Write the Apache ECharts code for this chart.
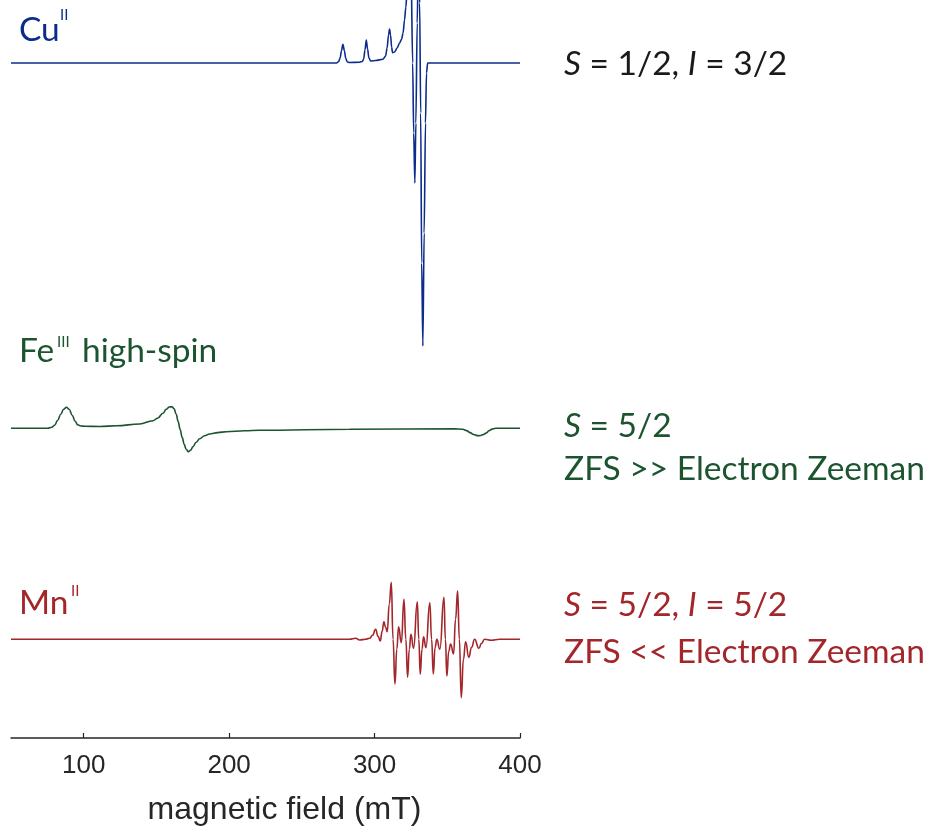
<!DOCTYPE html>
<html><head><meta charset="utf-8">
<script src="https://cdn.jsdelivr.net/npm/echarts@6/dist/echarts.min.js"></script>
<style>html,body{margin:0;padding:0;background:#fff}#c{width:935px;height:827px}</style>
</head><body><div id="c"></div>
<script>
// ---- data (field in mT, signal in arbitrary derivative units) ----
const xTicks = [100, 200, 300, 400];

const cuField  = [50, 273.9, 275.3, 276.3, 277.2, 278.2, 279.3, 280.1, 281.1, 282.8, 289.7, 291.6, 292.5, 293.4, 294.3, 295.2, 296.1, 297.3, 300.7, 305.7, 307.6, 308.6, 309.6, 310.3, 311.0, 311.7, 312.4, 313.8, 315.5, 317.2, 318.6, 319.6, 320.6, 321.5, 322.2, 323.0, 324.1, 325.1, 326.2, 326.9, 327.7, 328.4, 329.3, 330.1, 331.0, 331.7, 332.4, 333.2, 334.1, 335.0, 335.7, 336.5, 400];
const cuSignal = [0, 0, 1.5, 5, 12, 18.7, 12, 5, 1.2, 0.5, 0.8, 1.5, 4, 13, 23, 14, 5, 2, 2.5, 3.7, 7, 15, 28, 34, 28, 16, 10.3, 11, 15, 20, 24, 30, 43, 56, 68, 100, 120, 90, 0, -70, -120, -60, 40, 100, 60, -50, -200, -283, -170, -60, -10, 0, 0];

const feField  = [50, 75.2, 78.0, 80.0, 82.1, 84.2, 86.2, 88.1, 90.0, 92.1, 94.1, 95.9, 98.0, 100.7, 111.0, 122.5, 138.5, 147.6, 150.8, 154.5, 156.7, 158.8, 160.7, 162.2, 163.6, 164.9, 166.3, 167.7, 169.1, 170.4, 172.0, 173.5, 175.1, 177.3, 179.7, 183.1, 186.6, 192.1, 198.1, 210.7, 221.0, 282.8, 355.0, 360.7, 363.3, 365.7, 368.1, 370.5, 372.5, 374.6, 376.7, 378.7, 380.8, 383.2, 400];
const feSignal = [0, 0, 1, 3, 8, 14, 19, 21, 19, 13, 7, 3.5, 2.3, 2, 1.8, 2.6, 4.3, 7.6, 10, 15, 19, 21.3, 21.6, 19.5, 14, 7, -1, -9, -16, -21, -23.4, -22, -18.4, -14, -10.5, -7.5, -5.7, -4.3, -3.4, -2.5, -2, -1, -0.5, -1, -2.3, -4.3, -6.2, -7.3, -7.4, -6.3, -4.8, -2.5, -0.8, 0, 0];

const mnField  = [50, 282.8, 287.0, 289.7, 293.8, 296.6, 298.6, 300.7, 302.4, 303.9, 305.2, 306.4, 307.6, 308.7, 310.1, 311.5, 312.7, 314.0, 315.3, 316.5, 318.4, 320.2, 321.5, 322.7, 323.9, 325.0, 326.8, 329.4, 330.4, 331.4, 332.6, 333.7, 335.3, 338.0, 339.2, 340.4, 341.6, 342.8, 344.9, 347.7, 348.7, 349.7, 351.0, 352.3, 354.3, 355.7, 357.1, 358.3, 359.6, 361.1, 362.6, 364.8, 366.7, 368.8, 371.7, 373.6, 375.6, 380.2, 386.0, 400];
const mnSignal = [0, 0, 1, -0.7, 0, 1, 4, 10, 3, -1.7, 8, 17.6, 12, 7.6, 35, 57, 0, -44.7, -10, 12.6, -3.4, 40, 0, -38, -10, 5, -9, 37.6, 0, -35, -10, 2.6, -8.4, 36.6, 0, -34.7, -8, 0, -10, 42, 0, -36.7, -12, -4.7, -14.7, 20, 48.6, 0, -58.4, -20, -2.4, -18, -8, 0, -9, -4, 0, -1, 0, 0];

const xName = 'magnetic field (mT)';
// ---------------------------------------------------------------

const blue = '#0c2c8c', green = '#1c5430', red = '#a3262b', dark = '#262626';
const zip = (a, b) => a.map((v, i) => [v, b[i]]);
const txtFont = 'Lato';
const txtSize = 33.5;

const chart = echarts.init(document.getElementById('c'), null, {renderer: 'canvas'});

function t(x, y, text, color, size, rich) {
  const style = {text: text, x: 0, y: 0, fill: color, fontSize: size, fontFamily: txtFont, verticalAlign: 'middle', align: 'left'};
  if (rich) style.rich = rich;
  return {type: 'text', x: x, y: y, z: 10, style: style};
}
const it = c => ({i: {fontStyle: 'italic', fontSize: txtSize, fontFamily: txtFont, fill: c}});

chart.setOption({
  animation: false,
  backgroundColor: '#ffffff',
  grid: {left: 11, right: 415, top: 0, bottom: 89, containLabel: false, outerBoundsMode: 'none'},
  xAxis: {
    type: 'value', min: 50, max: 400,
    axisLine: {onZero: false, lineStyle: {color: dark, width: 1.5}},
    axisTick: {inside: true, length: 5, customValues: xTicks, lineStyle: {color: dark, width: 1.2}},
    axisLabel: {customValues: xTicks, fontSize: 26, color: dark, fontFamily: 'Liberation Sans', margin: 15},
    splitLine: {show: false},
    name: xName, nameLocation: 'middle', nameGap: 56,
    nameTextStyle: {fontSize: 32, color: dark, fontFamily: 'Liberation Sans', padding: [0, 0, 0, 38]}
  },
  yAxis: [
    {type: 'value', min: -675, max: 63, show: false, splitLine: {show: false}},
    {type: 'value', min: -309.7, max: 428.3, show: false, splitLine: {show: false}},
    {type: 'value', min: -98.7, max: 639.3, show: false, splitLine: {show: false}}
  ],
  series: [
    {type: 'line', yAxisIndex: 0, data: zip(cuField, cuSignal), showSymbol: false, smooth: 0.3, smoothMonotone: 'x', lineStyle: {color: blue, width: 1.6}},
    {type: 'line', yAxisIndex: 1, data: zip(feField, feSignal), showSymbol: false, smooth: 0.4, smoothMonotone: 'x', lineStyle: {color: green, width: 1.6}},
    {type: 'line', yAxisIndex: 2, data: zip(mnField, mnSignal), showSymbol: false, smooth: 0.5, smoothMonotone: 'x', lineStyle: {color: red, width: 1.6}}
  ],
  graphic: [
    t(19, 30, 'Cu', blue, txtSize),
    t(60, 15.5, 'II', blue, 15),
    t(19, 351.5, 'Fe', green, txtSize),
    t(57, 342.5, 'III', green, 15),
    t(82, 351.5, 'high-spin', green, txtSize),
    t(19, 603.5, 'Mn', red, txtSize),
    t(71, 591, 'II', red, 15),
    t(564, 64, '{i|S} = 1/2, {i|I} = 3/2', '#1a1a1a', txtSize, it('#1a1a1a')),
    t(564, 426, '{i|S} = 5/2', green, txtSize, it(green)),
    t(564, 469, 'ZFS >> Electron Zeeman', green, txtSize),
    t(564, 605, '{i|S} = 5/2, {i|I} = 5/2', red, txtSize, it(red)),
    t(564, 652, 'ZFS << Electron Zeeman', red, txtSize)
  ]
});
</script>
</body></html>
